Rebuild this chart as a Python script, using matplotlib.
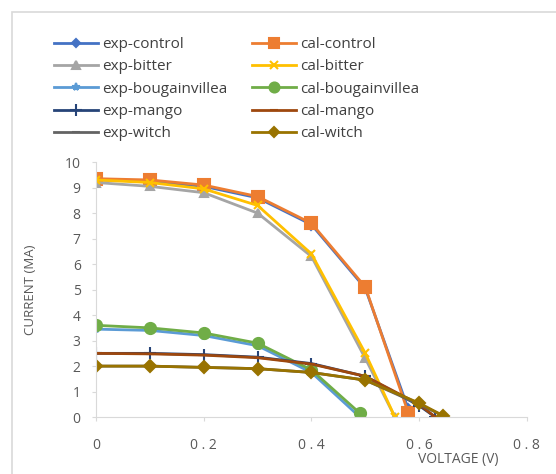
import matplotlib.pyplot as plt
from matplotlib.patches import Rectangle

plt.rcParams['font.family'] = ['Open Sans', 'DejaVu Sans']

# voltage (V) / current (mA)
v_control = [0, 0.1, 0.2, 0.3, 0.4, 0.5, 0.58]
exp_control = [9.3, 9.25, 9.05, 8.6, 7.55, 5.05, 0.3]
cal_control = [9.35, 9.3, 9.1, 8.65, 7.6, 5.1, 0.15]

v_bitter = [0, 0.1, 0.2, 0.3, 0.4, 0.5, 0.555]
exp_bitter = [9.2, 9.05, 8.8, 8.0, 6.3, 2.3, 0.0]
cal_bitter = [9.3, 9.2, 8.95, 8.3, 6.4, 2.5, 0.0]

v_boug = [0, 0.1, 0.2, 0.3, 0.4, 0.49]
exp_boug = [3.45, 3.4, 3.2, 2.8, 1.75, 0.0]
cal_boug = [3.6, 3.5, 3.3, 2.9, 1.85, 0.15]

v_mango = [0, 0.1, 0.2, 0.3, 0.4, 0.5, 0.6, 0.63]
exp_mango = [2.5, 2.5, 2.45, 2.35, 2.1, 1.6, 0.45, 0.0]
cal_mango = [2.5, 2.48, 2.43, 2.33, 2.08, 1.6, 0.5, 0.0]

v_witch = [0, 0.1, 0.2, 0.3, 0.4, 0.5, 0.6, 0.645]
exp_witch = [2.0, 2.0, 1.95, 1.9, 1.75, 1.45, 0.5, 0.05]
cal_witch = [2.0, 2.0, 1.95, 1.9, 1.75, 1.45, 0.55, 0.05]

xticks = [0, 0.2, 0.4, 0.6, 0.8]
xticklabels = ['0', '0 . 2', '0 . 4', '0 . 6', '0 . 8']
yticks = list(range(0, 11))

series = [
    ('exp-control', v_control, exp_control, '#4472C4', 'D', 5),
    ('cal-control', v_control, cal_control, '#ED7D31', 's', 8),
    ('exp-bitter', v_bitter, exp_bitter, '#A5A5A5', '^', 6),
    ('cal-bitter', v_bitter, cal_bitter, '#FFC000', 'x', 6),
    ('exp-bougainvillea', v_boug, exp_boug, '#5B9BD5', '*', 6),
    ('cal-bougainvillea', v_boug, cal_boug, '#70AD47', 'o', 8),
    ('exp-mango', v_mango, exp_mango, '#264478', '+', 9),
    ('cal-mango', v_mango, cal_mango, '#9E480E', '_', 6),
    ('exp-witch', v_witch, exp_witch, '#636363', '_', 7),
    ('cal-witch', v_witch, cal_witch, '#997300', 'D', 6),
]

fig = plt.figure(figsize=(5.56, 4.74), dpi=100)
ax = fig.add_axes([0.1727, 0.120, 0.775, 0.538])

handles = []
for name, v, i, color, marker, ms in series:
    h, = ax.plot(v, i, '-', color=color, linewidth=2.0, marker=marker,
                 markersize=ms, markeredgewidth=1.5, markeredgecolor=color,
                 markerfacecolor=color, label=name)
    handles.append(h)

ax.set_xlim(0, 0.8)
ax.set_ylim(0, 10)
ax.set_xticks(xticks)
ax.set_xticklabels(xticklabels)
ax.set_yticks(yticks)

for side in ['top', 'right']:
    ax.spines[side].set_visible(False)
for side in ['left', 'bottom']:
    ax.spines[side].set_color('#d9d9d9')
ax.tick_params(axis='both', colors='#d9d9d9', labelcolor='#595959', labelsize=10, length=3)
ax.tick_params(axis='x', pad=12)
ax.tick_params(axis='y', pad=8)

ax.set_ylabel('CURRENT (MA)', fontsize=9.5, color='#595959', labelpad=20)
ax.set_xlabel('VOLTAGE (V)', fontsize=10, color='#595959', labelpad=0)
ax.xaxis.set_label_coords(0.84, -0.135)

# legend in two columns, exp on the left, cal on the right
order = [0, 2, 4, 6, 8, 1, 3, 5, 7, 9]
fig.legend([handles[k] for k in order], [series[k][0] for k in order],
           loc='upper left', bbox_to_anchor=(0.072, 0.951), ncol=2,
           frameon=False, fontsize=11, handlelength=2.9, columnspacing=1.6,
           labelspacing=0.48, handletextpad=0.25, labelcolor='#404040',
           markerscale=0.9)

fig.patches.append(Rectangle((12 / 556, -0.01), 0.99, 1 - 12 / 474 + 0.01,
                             transform=fig.transFigure, fill=False,
                             edgecolor='#d9d9d9', linewidth=1.2))

plt.savefig('out.png', dpi=100)
plt.close()
